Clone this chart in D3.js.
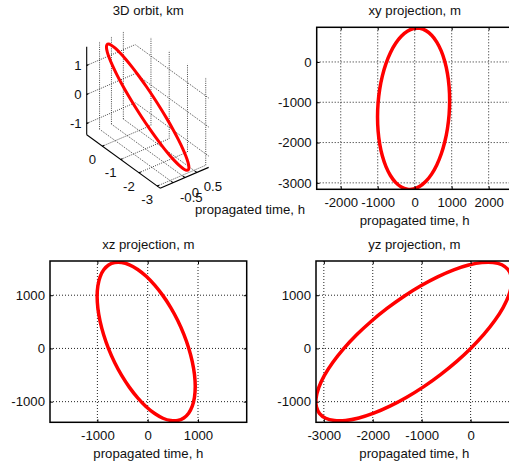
<!DOCTYPE html>
<html>
<head>
<meta charset="utf-8">
<script src="https://cdn.jsdelivr.net/npm/d3@7"></script>
<style>
  body { margin: 0; background: #fff; }
  svg text { font-family: "Liberation Sans", Arial, sans-serif; font-size: 13.2px; font-weight: normal; fill: #111; }
  .grid { stroke: #222; stroke-width: 1; stroke-dasharray: 1,2; }
  .grid3 { stroke: #333; stroke-width: 0.9; stroke-dasharray: 1,1.2; }
</style>
</head>
<body>
<svg id="fig" width="509" height="468"></svg>
<script>
// relative orbit, m (one revolution, read from the projections)
const orbitX = [945, 930, 886, 814, 717, 597, 458, 303, 139, -30, -199, -363, -518, -657, -777, -874, -946, -990,
                -1005, -990, -946, -874, -777, -657, -518, -363, -199, -30, 139, 303, 458, 597, 717, 814, 886, 930];
const orbitY = [-957, -615, -289, 11, 274, 494, 664, 778, 833, 828, 762, 638, 459, 231, -40, -345, -674, -1018,
                -1367, -1709, -2035, -2335, -2598, -2818, -2988, -3102, -3157, -3152, -3086, -2962, -2783, -2555, -2284, -1980, -1650, -1306];
const orbitZ = [-717, -491, -247, 10, 269, 525, 768, 992, 1190, 1356, 1484, 1572, 1615, 1614, 1567, 1477, 1345, 1177,
                977, 751, 507, 251, -9, -265, -508, -732, -930, -1096, -1224, -1312, -1355, -1354, -1307, -1217, -1085, -917];

// axis limits, m
const limX3d = [-1040, 1000];
const limY3d = [-3160, 860];
const limZ3d = [-1390, 1645];
const limXY_x = [-2650, 2650];
const limXY_y = [-3160, 860];
const limXZ_x = [-1942, 1968];
const limZ = [-1388, 1643];
const limYZ_x = [-3160, 860];

// ticks
const ticks3dX = [-500, 0, 500];
const ticks3dY = [0, -1000, -2000, -3000];
const ticks3dZ = [1000, 0, -1000];
const ticksXY_x = [-2000, -1000, 0, 1000, 2000];
const ticksXY_y = [0, -1000, -2000, -3000];
const ticksXZ_x = [-1000, 0, 1000];
const ticksZ = [-1000, 0, 1000];
const ticksYZ_x = [-3000, -2000, -1000, 0];

const titles = ["3D orbit, km", "xy projection, m", "xz projection, m", "yz projection, m"];
const xlabelText = "propagated time, h";

const svg = d3.select('#fig');
const fmt = d => String(d);

function panel2d(p) {
    const g = svg.append('g');
    const x = d3.scaleLinear().domain(p.xlim).range([p.left, p.left + p.width]);
    const y = d3.scaleLinear().domain(p.ylim).range([p.top + p.height, p.top]);

    svg.append('clipPath').attr('id', 'clip' + p.id)
        .append('rect')
        .attr('x', p.left).attr('y', p.top)
        .attr('width', p.width).attr('height', p.height);

    g.selectAll(null).data(p.xticks).enter().append('line')
        .attr('class', 'grid')
        .attr('x1', d => x(d)).attr('x2', d => x(d))
        .attr('y1', p.top).attr('y2', p.top + p.height);
    g.selectAll(null).data(p.yticks).enter().append('line')
        .attr('class', 'grid')
        .attr('x1', p.left).attr('x2', p.left + p.width)
        .attr('y1', d => y(d)).attr('y2', d => y(d));

    const line = d3.line()
        .x(i => x(p.u[i]))
        .y(i => y(p.v[i]))
        .curve(d3.curveCatmullRomClosed);
    g.append('path')
        .attr('d', line(d3.range(p.u.length)))
        .attr('clip-path', `url(#clip${p.id})`)
        .attr('fill', 'none')
        .attr('stroke', '#ff0000')
        .attr('stroke-width', 3.5);

    // ticks on all sides, labels bottom/left
    const bottom = d3.axisBottom(x).tickValues(p.xticks).tickSizeInner(-3).tickSizeOuter(0).tickPadding(8).tickFormat(fmt);
    const left = d3.axisLeft(y).tickValues(p.yticks).tickSizeInner(-3).tickSizeOuter(0).tickPadding(5).tickFormat(fmt);
    const top = d3.axisTop(x).tickValues(p.xticks).tickSizeInner(-3).tickSizeOuter(0).tickFormat('');
    const right = d3.axisRight(y).tickValues(p.yticks).tickSizeInner(-3).tickSizeOuter(0).tickFormat('');

    [[bottom, 0, p.top + p.height], [left, p.left, 0], [top, 0, p.top], [right, p.left + p.width, 0]]
        .forEach(([ax, tx, ty]) => {
            const a = g.append('g').attr('transform', `translate(${tx},${ty})`).call(ax);
            a.select('.domain').remove();
            a.selectAll('.tick line').attr('stroke', '#000');
            a.selectAll('text').attr('font-size', null).attr('font-family', null).attr('fill', null);
        });

    g.append('rect')
        .attr('x', p.left).attr('y', p.top)
        .attr('width', p.width).attr('height', p.height)
        .attr('fill', 'none').attr('stroke', '#000').attr('stroke-width', 1.5);

    g.append('text')
        .attr('x', p.left + p.width / 2).attr('y', p.top - 12.5)
        .attr('text-anchor', 'middle').text(p.title);
    g.append('text')
        .attr('x', p.left + p.width / 2).attr('y', p.top + p.height + 35.5)
        .attr('text-anchor', 'middle').text(xlabelText);
}

panel2d({ id: 'xy', left: 316.7, top: 27.3, width: 196, height: 162,
    xlim: limXY_x, ylim: limXY_y, xticks: ticksXY_x, yticks: ticksXY_y,
    u: orbitX, v: orbitY, title: titles[1] });
panel2d({ id: 'xz', left: 50, top: 261, width: 196.7, height: 161.3,
    xlim: limXZ_x, ylim: limZ, xticks: ticksXZ_x, yticks: ticksZ,
    u: orbitX, v: orbitZ, title: titles[2] });
panel2d({ id: 'yz', left: 316, top: 261, width: 196.7, height: 161.3,
    xlim: limYZ_x, ylim: limZ, xticks: ticksYZ_x, yticks: ticksZ,
    u: orbitY, v: orbitZ, title: titles[3] });

// ---- 3D panel (view az -37.5, el 30, stretched to fill) ----
const az = -37.5 * Math.PI / 180, el = 30 * Math.PI / 180;
const km = d3.scaleLinear().domain([0, 1000]).range([0, 1]);
const o3 = { x: 86.7, y: 46.7, kx: 30, ky: 33.5 };   // screen point of (xmin, ymax, zmax)

function proj(x, y, z) {
    const dx = km(x - limX3d[0]), dy = km(y - limY3d[1]), dz = km(z - limZ3d[1]);
    return [
        o3.x + o3.kx * (Math.cos(az) * dx + Math.sin(az) * dy),
        o3.y - o3.ky * (-Math.sin(el) * Math.sin(az) * dx + Math.sin(el) * Math.cos(az) * dy + Math.cos(el) * dz)
    ];
}

const g3 = svg.append('g');
const seg = (a, b, cls) => {
    const p = proj(...a), q = proj(...b);
    const l = g3.append('line').attr('x1', p[0]).attr('y1', p[1]).attr('x2', q[0]).attr('y2', q[1]);
    if (cls) l.attr('class', cls); else l.attr('stroke', '#000').attr('stroke-width', 1.1);
    return l;
};
const [x0, x1] = limX3d, [y0, y1] = limY3d, [z0, z1] = limZ3d;

// back wall y = ymax
ticks3dX.forEach(t => seg([t, y1, z0], [t, y1, z1], 'grid3'));
ticks3dZ.forEach(t => seg([x0, y1, t], [x1, y1, t], 'grid3'));
// back wall x = xmax
ticks3dY.forEach(t => seg([x1, t, z0], [x1, t, z1], 'grid3'));
ticks3dZ.forEach(t => seg([x1, y0, t], [x1, y1, t], 'grid3'));
// floor z = zmin
ticks3dX.forEach(t => seg([t, y0, z0], [t, y1, z0], 'grid3'));
ticks3dY.forEach(t => seg([x0, t, z0], [x1, t, z0], 'grid3'));

// axis lines
seg([x0, y1, z0], [x0, y1, z1]);
seg([x0, y0, z0], [x0, y1, z0]);
seg([x0, y0, z0], [x1, y0, z0]);
// ticks
ticks3dZ.forEach(t => seg([x0, y1, t], [x0 + 80, y1, t]));
ticks3dY.forEach(t => seg([x0, t, z0], [x0 + 80, t, z0]));
ticks3dX.forEach(t => seg([t, y0, z0], [t, y0 + 100, z0]));

// orbit
const line3 = d3.line()
    .x(i => proj(orbitX[i], orbitY[i], orbitZ[i])[0])
    .y(i => proj(orbitX[i], orbitY[i], orbitZ[i])[1])
    .curve(d3.curveCatmullRomClosed);
g3.append('path')
    .attr('d', line3(d3.range(orbitX.length)))
    .attr('fill', 'none').attr('stroke', '#ff0000').attr('stroke-width', 3);

// tick labels
ticks3dZ.forEach(t => {
    const p = proj(x0, y1, t);
    g3.append('text').attr('x', p[0] - 5).attr('y', p[1] + 4.7).attr('text-anchor', 'end').text(km(t));
});
ticks3dY.forEach(t => {
    const p = proj(x0, t, z0);
    g3.append('text').attr('x', p[0] - 10).attr('y', p[1] + 18).attr('text-anchor', 'middle').text(km(t));
});
ticks3dX.forEach(t => {
    const p = proj(t, y0, z0);
    g3.append('text').attr('x', p[0] + 7).attr('y', p[1] + 19).attr('text-anchor', 'start').text(km(t));
});

g3.append('text').attr('x', 148.3).attr('y', 14.5).attr('text-anchor', 'middle').text(titles[0]);
g3.append('text').attr('x', 195).attr('y', 213.5).attr('text-anchor', 'start').text(xlabelText);
</script>
</body>
</html>
